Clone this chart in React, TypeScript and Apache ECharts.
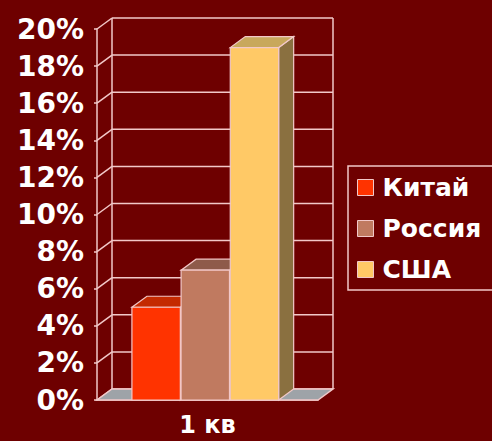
import React, { useEffect, useRef } from "react";
import * as echarts from "echarts";

const categories = ["1 кв"];
const seriesNames = ["Китай", "Россия", "США"];
const seriesValues = [5, 7, 19];
const yTicks = [0, 2, 4, 6, 8, 10, 12, 14, 16, 18, 20];

const frontColors = ["#ff3300", "#c07a60", "#ffc966"];
const topColors = ["#c42a00", "#8e5a4a", "#c8a85c"];
const sideColors = ["#a02000", "#7a4a3c", "#8a7040"];

const BG = "#6e0000";
const LINE = "#f2c8c8";
const FONT = "DejaVu Sans";
const DX = 15;
const DY = -11;

export default function App() {
  const ref = useRef<HTMLDivElement>(null);
  useEffect(() => {
    document.body.style.margin = "0";
    const chart = echarts.init(ref.current!, null, { renderer: "svg" });
    const yMax = yTicks[yTicks.length - 1];

    const wallSeries: any = {
      type: "custom",
      name: "walls",
      silent: true,
      clip: false,
      z: 1,
      data: yTicks.map((v) => [0, v]),
      renderItem: (params: any, api: any) => {
        const v = api.value(1);
        const p = api.coord([0, v]);
        const half = api.size([1, 0])[0] / 2;
        const xl = p[0] - half;
        const xr = p[0] + half;
        const st = { stroke: LINE, lineWidth: 1.5, fill: "none" };
        const children: any[] = [
          { type: "line", shape: { x1: xl + DX, y1: p[1] + DY, x2: xr + DX, y2: p[1] + DY }, style: st },
          { type: "line", shape: { x1: xl, y1: p[1], x2: xl + DX, y2: p[1] + DY }, style: st },
        ];
        if (v === 0) {
          const top = api.coord([0, yMax])[1];
          children.push(
            { type: "line", shape: { x1: xl + DX, y1: p[1] + DY, x2: xl + DX, y2: top + DY }, style: st },
            { type: "line", shape: { x1: xr + DX, y1: p[1] + DY, x2: xr + DX, y2: top + DY }, style: st }
          );
        }
        return { type: "group", children };
      },
    };

    const floorSeries: any = {
      type: "custom",
      name: "floor",
      silent: true,
      clip: false,
      z: 2,
      data: [[0, 0]],
      renderItem: (params: any, api: any) => {
        const p = api.coord([0, 0]);
        const half = api.size([1, 0])[0] / 2;
        const xl = p[0] - half;
        const xr = p[0] + half;
        return {
          type: "polygon",
          shape: { points: [[xl, p[1]], [xr, p[1]], [xr + DX, p[1] + DY], [xl + DX, p[1] + DY]] },
          style: { fill: "#9ea3a8", stroke: LINE, lineWidth: 1.5 },
        };
      },
    };

    const barSeries = seriesNames.map((name, i) => ({
      type: "custom",
      name,
      clip: false,
      z: 3 + i,
      itemStyle: { color: frontColors[i], borderColor: LINE, borderWidth: 1 },
      data: [[0, seriesValues[i]]],
      renderItem: (params: any, api: any) => {
        const v = api.value(1);
        const p = api.coord([0, v]);
        const y0 = api.coord([0, 0])[1];
        const band = api.size([1, 0])[0];
        const xl = p[0] - band / 2;
        const x0 = xl + band * 0.158 + i * band * 0.2225;
        const x1 = x0 + band * 0.219;
        const yt = p[1];
        const st = { stroke: LINE, lineWidth: 1.2 };
        return {
          type: "group",
          children: [
            {
              type: "polygon",
              shape: { points: [[x1, yt], [x1 + DX, yt + DY], [x1 + DX, y0 + DY], [x1, y0]] },
              style: { fill: sideColors[i], ...st },
            },
            {
              type: "polygon",
              shape: { points: [[x0, yt], [x1, yt], [x1 + DX, yt + DY], [x0 + DX, yt + DY]] },
              style: { fill: topColors[i], ...st },
            },
            {
              type: "rect",
              shape: { x: x0, y: yt, width: x1 - x0, height: y0 - yt },
              style: { fill: frontColors[i], ...st },
            },
          ],
        };
      },
    }));

    chart.setOption({
      animation: false,
      backgroundColor: BG,
      grid: { left: 97, right: 174, top: 29, bottom: 41 },
      graphic: [
        {
          type: "rect",
          silent: true,
          shape: { x: 348, y: 166, width: 170, height: 124 },
          style: { fill: "none", stroke: LINE, lineWidth: 1.5 },
        },
      ],
      legend: {
        data: seriesNames,
        orient: "vertical",
        left: 348,
        top: 166,
        padding: [9, 10, 10, 9],
        itemGap: 16,
        itemWidth: 16,
        itemHeight: 16,
        icon: "rect",
        selectedMode: false,
        itemStyle: { borderColor: LINE, borderWidth: 1 },
        textStyle: {
          color: "#ffffff",
          fontFamily: FONT,
          fontWeight: "bold",
          fontSize: 25,
          lineHeight: 24,
          padding: [0, 0, 0, 4],
        },
      },
      xAxis: {
        type: "category",
        data: categories,
        axisLine: { show: true, lineStyle: { color: LINE, width: 1.5 } },
        axisTick: { show: false },
        axisLabel: {
          color: "#ffffff",
          fontFamily: FONT,
          fontWeight: "bold",
          fontSize: 24,
          margin: 13,
        },
      },
      yAxis: {
        type: "value",
        min: 0,
        max: 20,
        interval: 2,
        splitLine: { show: false },
        axisLine: { show: true, lineStyle: { color: LINE, width: 1.5 } },
        axisTick: { show: true, length: 3, lineStyle: { color: LINE, width: 1.5 } },
        axisLabel: {
          formatter: "{value}%",
          color: "#ffffff",
          fontFamily: FONT,
          fontWeight: "bold",
          fontSize: 28,
          margin: 13,
        },
      },
      series: [wallSeries, floorSeries, ...barSeries],
    });
    return () => chart.dispose();
  }, []);
  return <div ref={ref} style={{ position: "fixed", left: 0, top: 0, width: 492, height: 441 }} />;
}
